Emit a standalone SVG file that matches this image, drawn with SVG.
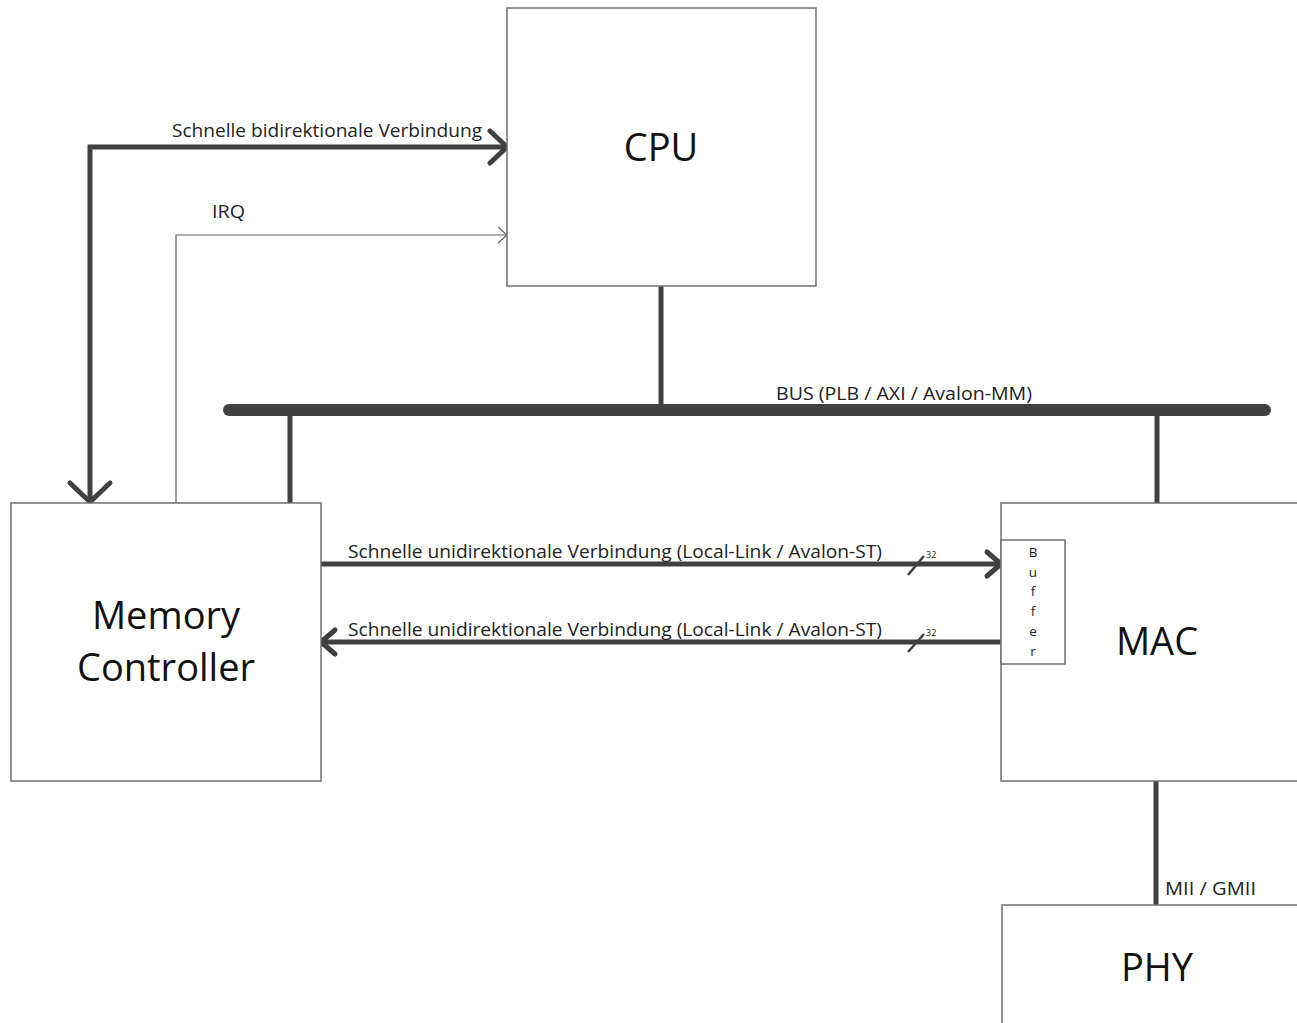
<svg xmlns="http://www.w3.org/2000/svg" width="1297" height="1023" viewBox="0 0 1297 1023">
<defs>
<style>
.box{fill:#fff;stroke:#707070;stroke-width:1.5}
.big{font-family:"Open Sans","Liberation Sans",sans-serif;font-size:38px;fill:#111;text-anchor:middle}
.lbl{font-family:"Open Sans","Liberation Sans",sans-serif;font-size:17.5px;fill:#222}
.small{font-family:"Open Sans","Liberation Sans",sans-serif;font-size:9px;fill:#222}
.buf{font-family:"Open Sans","Liberation Sans",sans-serif;font-size:13.5px;fill:#222;text-anchor:middle}
.thick{stroke:#404040;stroke-width:5;fill:none}
.head{stroke:#404040;stroke-width:5;fill:none;stroke-linecap:round;stroke-linejoin:round}
.thin{stroke:#606060;stroke-width:1.2;fill:none}
</style>
</defs>
<rect width="1297" height="1023" fill="#fff"/>
<g id="connectors">
<line x1="229" y1="410" x2="1265" y2="410" stroke="#404040" stroke-width="12" stroke-linecap="round"/>
<text class="lbl" x="776" y="400" textLength="256" lengthAdjust="spacingAndGlyphs">BUS (PLB / AXI / Avalon-MM)</text>
<line class="thick" x1="661" y1="286" x2="661" y2="410"/>
<line class="thick" x1="290" y1="410" x2="290" y2="503"/>
<line class="thick" x1="1157" y1="410" x2="1157" y2="503"/>
<line class="thick" x1="1156" y1="781" x2="1156" y2="905"/>
<text class="lbl" x="1165" y="895" textLength="91" lengthAdjust="spacingAndGlyphs">MII / GMII</text>
<polyline class="thick" points="505,147 90,147 90,501"/>
<polyline class="head" points="490,131 507,147 490,163"/>
<polyline class="head" points="70,483 90,502 110,483"/>
<text class="lbl" x="172" y="137" textLength="310" lengthAdjust="spacingAndGlyphs">Schnelle bidirektionale Verbindung</text>
<polyline class="thin" points="176,503 176,235 506,235"/>
<polyline class="thin" points="498,227 507,235 498,243"/>
<text class="lbl" x="212" y="218" textLength="33" lengthAdjust="spacingAndGlyphs">IRQ</text>
<line class="thick" x1="321" y1="564" x2="999" y2="564"/>
<polyline class="head" points="987,552 1001,564 987,576"/>
<line stroke="#404040" stroke-width="2.5" x1="908" y1="575" x2="924" y2="556"/>
<text class="small" x="926" y="558">32</text>
<text class="lbl" x="348" y="558" textLength="534" lengthAdjust="spacingAndGlyphs">Schnelle unidirektionale Verbindung (Local-Link / Avalon-ST)</text>
<line class="thick" x1="323" y1="642" x2="1001" y2="642"/>
<polyline class="head" points="335,630 321,642 335,654"/>
<line stroke="#404040" stroke-width="2.5" x1="908" y1="652" x2="924" y2="634"/>
<text class="small" x="926" y="636">32</text>
<text class="lbl" x="348" y="636" textLength="534" lengthAdjust="spacingAndGlyphs">Schnelle unidirektionale Verbindung (Local-Link / Avalon-ST)</text>
</g>
<g id="cpu">
<rect class="box" x="507" y="8" width="309" height="278"/>
<text class="big" x="661" y="161">CPU</text>
</g>
<g id="memory-controller">
<rect class="box" x="11" y="503" width="310" height="278"/>
<text class="big" x="166" y="629">Memory</text>
<text class="big" x="166" y="681">Controller</text>
</g>
<g id="mac">
<rect class="box" x="1001" y="503" width="310" height="278"/>
<text class="big" x="1157" y="655">MAC</text>
</g>
<g id="buffer">
<rect class="box" x="1001" y="540" width="64" height="124"/>
<text class="buf" x="1033" y="557">B</text>
<text class="buf" x="1033" y="577">u</text>
<text class="buf" x="1033" y="596">f</text>
<text class="buf" x="1033" y="616">f</text>
<text class="buf" x="1033" y="636">e</text>
<text class="buf" x="1033" y="656">r</text>
</g>
<g id="phy">
<rect class="box" x="1002" y="905" width="310" height="130"/>
<text class="big" x="1157" y="981">PHY</text>
</g>
</svg>
